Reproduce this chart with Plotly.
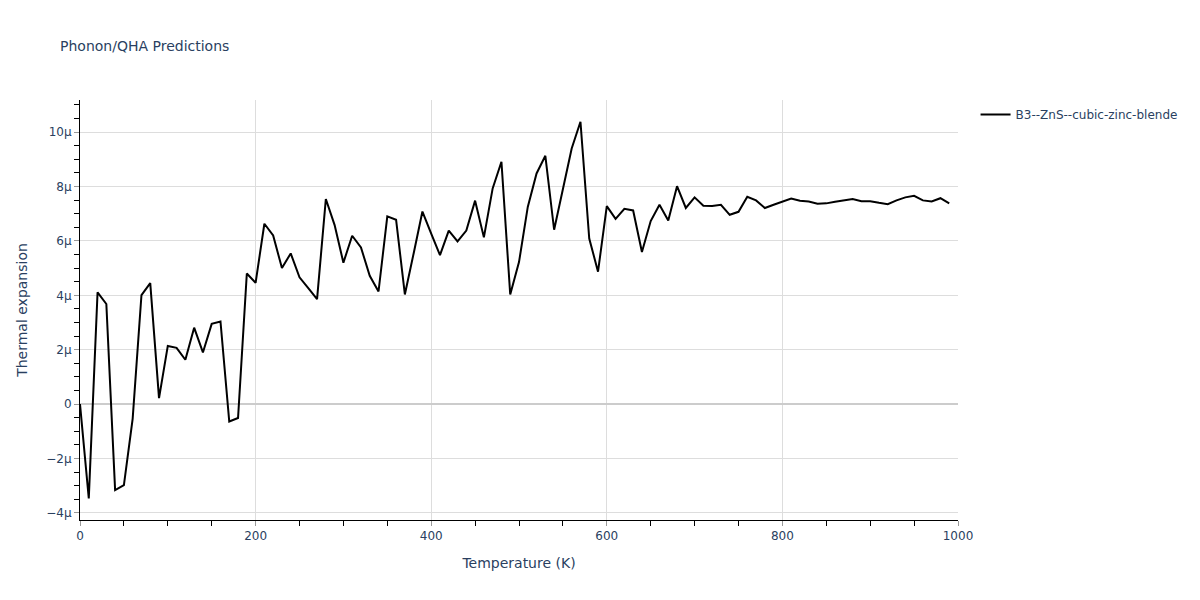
import plotly.graph_objects as go

temperature = list(range(0, 1000, 10))
alpha_micro = [
    0.00, -3.47, 4.11, 3.68, -3.16, -2.98, -0.53, 4.01, 4.45, 0.22,
    2.14, 2.07, 1.63, 2.81, 1.90, 2.95, 3.04, -0.64, -0.51, 4.80,
    4.46, 6.63, 6.20, 5.00, 5.54, 4.66, 4.26, 3.86, 7.54, 6.58,
    5.20, 6.19, 5.76, 4.72, 4.14, 6.90, 6.78, 4.03, 5.54, 7.08,
    6.27, 5.48, 6.38, 5.98, 6.38, 7.48, 6.13, 7.93, 8.91, 4.03,
    5.22, 7.25, 8.48, 9.13, 6.41, 7.93, 9.40, 10.38, 6.09, 4.87,
    7.28, 6.81, 7.18, 7.12, 5.59, 6.73, 7.33, 6.75, 8.01, 7.21,
    7.60, 7.29, 7.28, 7.33, 6.96, 7.07, 7.62, 7.49, 7.21, 7.33,
    7.45, 7.56, 7.48, 7.45, 7.37, 7.38, 7.44, 7.49, 7.54, 7.46,
    7.46, 7.40, 7.35, 7.49, 7.60, 7.66, 7.49, 7.45, 7.57, 7.38,
]
alpha = [v * 1e-6 for v in alpha_micro]
series_name = "B3--ZnS--cubic-zinc-blende"

fig = go.Figure()
fig.add_trace(go.Scatter(
    x=temperature, y=alpha, mode="lines", name=series_name,
    line=dict(color="black", width=2),
))

fig.update_layout(
    width=1200, height=600,
    title=dict(text="Phonon/QHA Predictions", x=52 / 1200, y=0.945, font=dict(size=14)),
    plot_bgcolor="white", paper_bgcolor="white",
    margin=dict(l=72, r=250, t=92, b=88),
    showlegend=True,
    legend=dict(x=1.02, y=1.0, xanchor="left", yanchor="top"),
    font=dict(family="DejaVu Sans, Verdana, sans-serif", color="#2a3f5f"),
)
fig.update_xaxes(
    title_text="Temperature (K)", range=[0, 1000],
    showline=True, linecolor="black", linewidth=1,
    showgrid=True, gridcolor="#dddddd", dtick=200,
    ticks="outside", ticklen=5, tickcolor="#999999",
    minor=dict(dtick=50, ticks="outside", ticklen=5, tickcolor="black", showgrid=False),
    zeroline=False,
)
fig.update_yaxes(
    title_text="Thermal expansion", range=[-4.26e-6, 11.18e-6],
    showline=True, linecolor="black", linewidth=1,
    showgrid=True, gridcolor="#dddddd", dtick=2e-6,
    ticks="outside", ticklen=5, tickcolor="#999999",
    minor=dict(dtick=0.5e-6, ticks="outside", ticklen=5, tickcolor="black", showgrid=False),
    zeroline=True, zerolinecolor="#cccccc", zerolinewidth=2,
)

fig.write_html("out.html")
